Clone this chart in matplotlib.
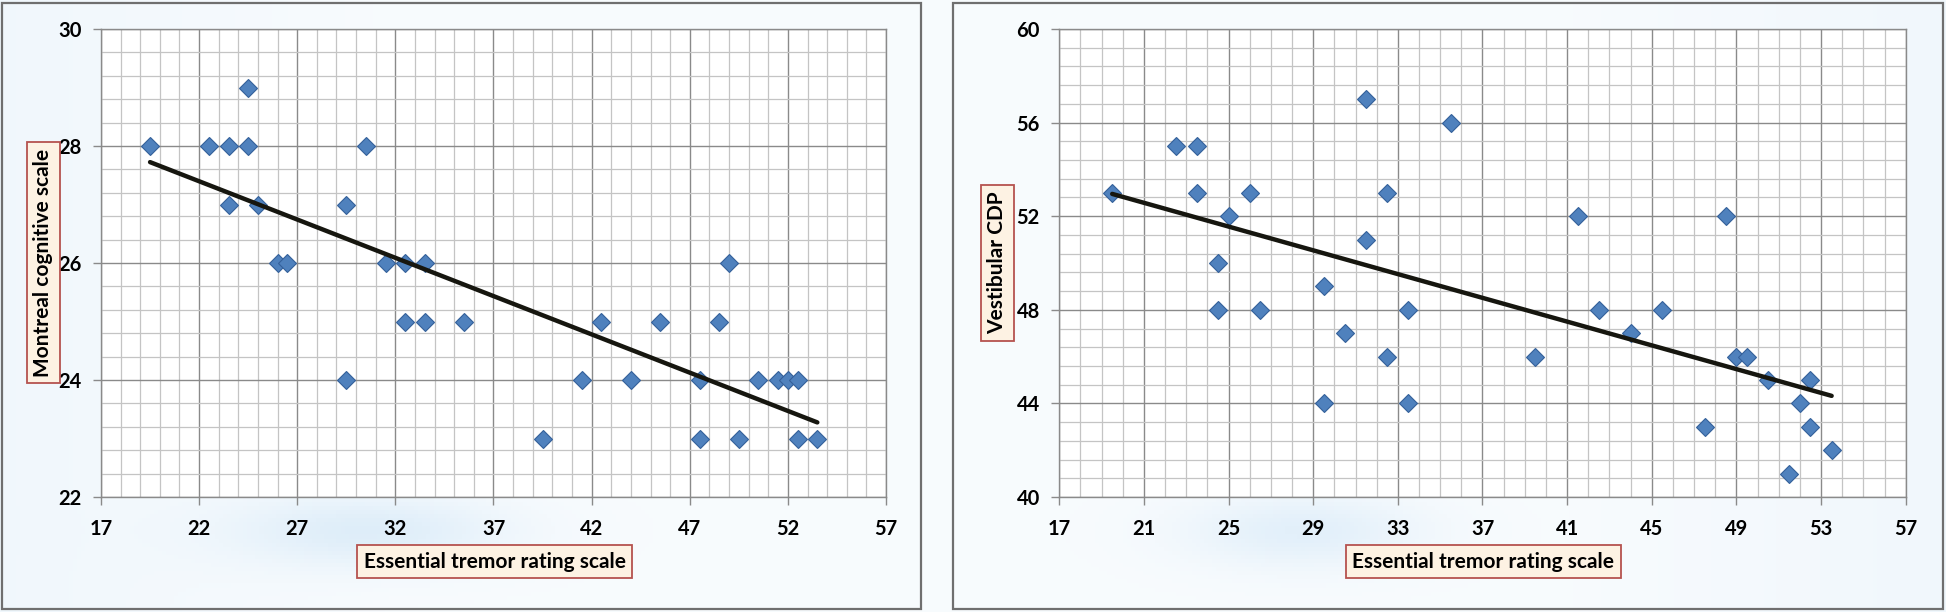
import numpy as np
import matplotlib.pyplot as plt
from matplotlib.patches import Rectangle

plt.rcParams['font.family'] = ['Lato', 'DejaVu Sans']
plt.rcParams['font.weight'] = 'bold'

# left panel: tremor scale vs Montreal cognitive scale
etrs_moca = [19.5, 22.5, 23.5, 24.5, 24.5, 23.5, 25, 26, 26.5, 29.5, 30.5, 31.5,
             32.5, 33.5, 32.5, 33.5, 35.5, 29.5, 42.5, 45.5, 48.5, 41.5, 44, 47.5,
             50.5, 51.5, 52, 52.5, 39.5, 47.5, 49.5, 52.5, 53.5, 49]
moca = [28, 28, 28, 28, 29, 27, 27, 26, 26, 27, 28, 26,
        26, 26, 25, 25, 25, 24, 25, 25, 25, 24, 24, 24,
        24, 24, 24, 24, 23, 23, 23, 23, 23, 26]

# right panel: tremor scale vs vestibular CDP
etrs_cdp = [19.5, 22.5, 23.5, 23.5, 25, 26, 24.5, 24.5, 26.5, 29.5, 31.5, 31.5,
            32.5, 33.5, 35.5, 30.5, 32.5, 29.5, 33.5, 41.5, 48.5, 42.5, 45.5, 44,
            39.5, 49, 49.5, 50.5, 52.5, 52, 52.5, 47.5, 53.5, 51.5]
cdp = [53, 55, 55, 53, 52, 53, 50, 48, 48, 49, 57, 51,
       53, 48, 56, 47, 46, 44, 44, 52, 52, 48, 48, 47,
       46, 46, 46, 45, 45, 44, 43, 43, 42, 41]

W, H = 1946, 612
fig = plt.figure(figsize=(W / 100, H / 100), dpi=100)

# soft background like the slide picture
bg = fig.add_axes([0, 0, 1, 1], zorder=-10)
yy, xx = np.mgrid[0:1:150j, 0:1:480j]
w = 0.10 + 0.25 * np.clip(np.abs(xx - 0.5) * 2 - 0.6, 0, 1)
w = w + 0.35 * np.exp(-(((xx - 0.19) / 0.07) ** 2 + ((yy - 0.13) / 0.06) ** 2))
w = w + 0.30 * np.exp(-(((xx - 0.67) / 0.06) ** 2 + ((yy - 0.13) / 0.06) ** 2))
base = np.array([1.0, 1.0, 1.0])
tint = np.array([0.72, 0.85, 0.95])
img = base * (1 - w[..., None]) + tint * w[..., None]
bg.imshow(img, extent=[0, 1, 0, 1], aspect='auto', origin='lower')
bg.set_axis_off()

# panel frames
for x0, x1 in [(2, 921), (953, 1943)]:
    fig.patches.append(Rectangle((x0 / W, 3 / H), (x1 - x0) / W, (609 - 3) / H,
                                 transform=fig.transFigure, fill=False,
                                 edgecolor='#6f6f6f', lw=1.6, zorder=5))


def panel(rect, x, y, xmaj, ymaj, yminor, ylim, ylabel, ylab_x, ylab_y, xlab_pos):
    ax = fig.add_axes(rect)
    ax.set_facecolor('white')
    ax.set_xlim(17, 57)
    ax.set_ylim(*ylim)
    ax.set_xticks(np.arange(17, 57.1, xmaj))
    ax.set_xticks(np.arange(17, 57.1, 1), minor=True)
    ax.set_yticks(np.arange(ylim[0], ylim[1] + 0.01, ymaj))
    ax.set_yticks(np.arange(ylim[0], ylim[1] + 0.01, yminor), minor=True)
    ax.grid(which='major', color='#8a8a8a', lw=1.0)
    ax.grid(which='minor', color='#c4c4c4', lw=0.9)
    ax.set_axisbelow(True)
    for s in ax.spines.values():
        s.set_color('#8a8a8a')
        s.set_linewidth(1.0)
    ax.tick_params(which='major', direction='out', length=6, width=1,
                   color='#8a8a8a', labelsize=14.5)
    ax.tick_params(axis='y', pad=8)
    ax.tick_params(axis='x', pad=10)
    ax.tick_params(which='minor', length=0)

    ax.plot(x, y, 'D', ms=9, mfc='#4f81bd', mec='#34609a', mew=0.8, zorder=3)
    k, b = np.polyfit(x, y, 1)
    xs = np.array([min(x), max(x)])
    ax.plot(xs, k * xs + b, color='#16160f', lw=3.2, solid_capstyle='round', zorder=4)

    box = dict(boxstyle='square,pad=0.3', fc='#fdf2e3', ec='#b5524f', lw=1.3)
    fig.text(ylab_x / W, 1 - ylab_y / H, ylabel, rotation=90, fontsize=15,
             fontweight='bold', ha='center', va='center', bbox=box)
    fig.text(xlab_pos[0] / W, 1 - xlab_pos[1] / H, 'Essential tremor rating scale',
             fontsize=15, fontweight='bold', ha='center', va='center', bbox=box)
    return ax


panel([101 / W, 1 - 497 / H, 785 / W, 468 / H], etrs_moca, moca, 5, 2, 0.4, (22, 30),
      'Montreal cognitive scale', 43.5, 262.5, (494.5, 561.5))
panel([1059.3 / W, 1 - 497 / H, 846.4 / W, 468 / H], etrs_cdp, cdp, 4, 4, 0.8, (40, 60),
      'Vestibular CDP', 997.5, 263, (1483.5, 561.5))

fig.savefig('out.png', dpi=100)
